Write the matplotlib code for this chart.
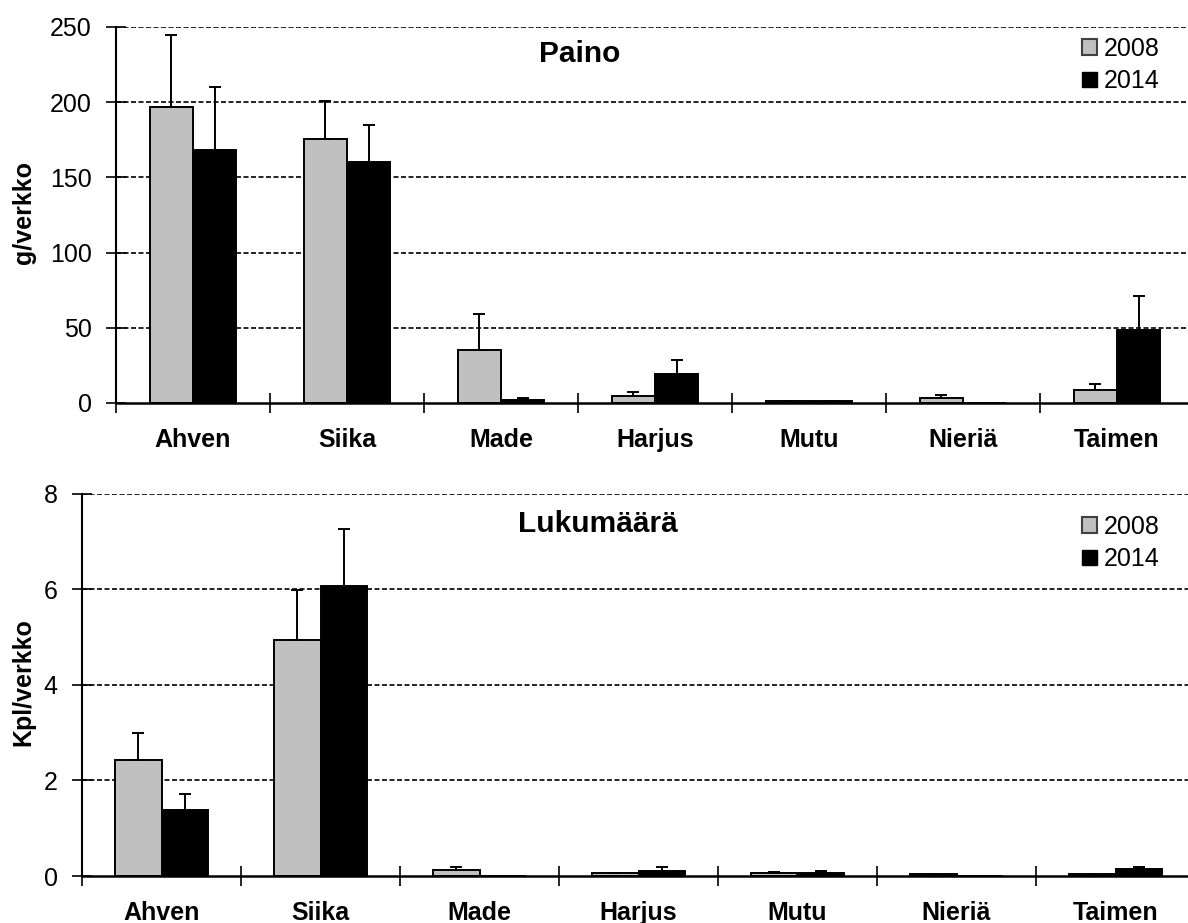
import matplotlib
matplotlib.use("Agg")
import matplotlib.pyplot as plt
import numpy as np
from matplotlib.patches import Patch

plt.rcParams['font.family'] = ['Liberation Sans', 'DejaVu Sans']

categories = ["Ahven", "Siika", "Made", "Harjus", "Mutu", "Nieriä", "Taimen"]
series_labels = ["2008", "2014"]

paino_2008 = [197, 175.5, 35, 4.5, 1.2, 3.2, 8.5]
paino_2008_err = [48, 25.5, 24, 2.5, 0, 1.8, 4]
paino_2014 = [168, 160, 2.3, 19.3, 1.2, 0.3, 48.5]
paino_2014_err = [42, 25, 1, 9, 0, 0, 22.5]

luku_2008 = [2.43, 4.93, 0.13, 0.06, 0.06, 0.05, 0.04]
luku_2008_err = [0.57, 1.05, 0.05, 0, 0.03, 0, 0]
luku_2014 = [1.39, 6.07, 0.01, 0.1, 0.07, 0, 0.14]
luku_2014_err = [0.33, 1.2, 0, 0.08, 0.03, 0, 0.04]

W, H = 1188, 923
fig = plt.figure(figsize=(W / 100, H / 100), dpi=100)

FS = 18
GRAY = "#C0C0C0"


def px_axes(left, right, bottom, top):
    return fig.add_axes([left / W, 1 - bottom / H, (right - left) / W, (bottom - top) / H])


def draw_panel(ax, v08, e08, v14, e14, width, ymax, yticks, ylabel, title,
               title_xy, ylabel_xy, legend_xy):
    x = np.arange(len(categories))
    n = len(categories)
    ax.bar(x - width / 2, v08, width, color=GRAY, edgecolor="black", linewidth=1.4, zorder=3)
    ax.bar(x + width / 2, v14, width, color="black", edgecolor="black", linewidth=1.4, zorder=3)
    ax.errorbar(x - width / 2, v08, yerr=[np.zeros(n), e08], fmt="none", ecolor="black",
                elinewidth=1.4, capsize=4.3, capthick=1.4, zorder=4)
    ax.errorbar(x + width / 2, v14, yerr=[np.zeros(n), e14], fmt="none", ecolor="black",
                elinewidth=1.4, capsize=4.3, capthick=1.4, zorder=4)
    ax.set_xlim(-0.5, n - 0.5)
    ax.set_ylim(0, ymax)
    ax.set_yticks(yticks)
    ax.set_yticklabels([str(t) for t in yticks], fontsize=FS)
    for t in yticks[1:]:
        ax.axhline(t, color="black", linewidth=1.2, linestyle=(0, (3.0, 1.5)), zorder=1)
    ax.set_xticks(x)
    ax.set_xticklabels(categories, fontsize=FS, fontweight="bold")
    ax.set_xticks(np.arange(-0.5, n, 1.0), minor=True)
    ax.tick_params(axis="x", which="major", length=0, pad=18)
    ax.tick_params(axis="x", which="minor", direction="inout", length=15, width=1.2)
    ax.tick_params(axis="y", direction="inout", length=15, width=1.2, pad=10)
    for s in ["top", "right"]:
        ax.spines[s].set_visible(False)
    ax.spines["left"].set_linewidth(1.5)
    ax.spines["bottom"].set_linewidth(1.8)
    ax.spines["bottom"].set_zorder(5)
    fig.text(title_xy[0] / W, 1 - title_xy[1] / H, title, fontsize=21.5, fontweight="bold",
             ha="center", va="baseline")
    fig.text(ylabel_xy[0] / W, 1 - ylabel_xy[1] / H, ylabel, fontsize=FS, fontweight="bold",
             rotation=90, ha="center", va="center")
    handles = [Patch(facecolor=GRAY, edgecolor="#404040", linewidth=1.5),
               Patch(facecolor="black", edgecolor="black")]
    ax.legend(handles, series_labels, loc="upper left",
              bbox_to_anchor=(legend_xy[0] / W, 1 - legend_xy[1] / H),
              bbox_transform=fig.transFigure, frameon=False, fontsize=FS,
              handlelength=0.58, handleheight=0.58, handletextpad=0.3,
              labelspacing=0.34, borderpad=0, borderaxespad=0)


ax1 = px_axes(116, 1194, 403, 27)
draw_panel(ax1, paino_2008, paino_2008_err, paino_2014, paino_2014_err, 0.28,
           250, [0, 50, 100, 150, 200, 250], "g/verkko", "Paino",
           (579.5, 61.7), (24, 212), (1082, 37))

ax2 = px_axes(82, 1195, 876, 493.7)
draw_panel(ax2, luku_2008, luku_2008_err, luku_2014, luku_2014_err, 0.29,
           8, [0, 2, 4, 6, 8], "Kpl/verkko", "Lukumäärä",
           (598, 531.7), (23, 682), (1082, 515))

fig.savefig("out.png", dpi=100)
